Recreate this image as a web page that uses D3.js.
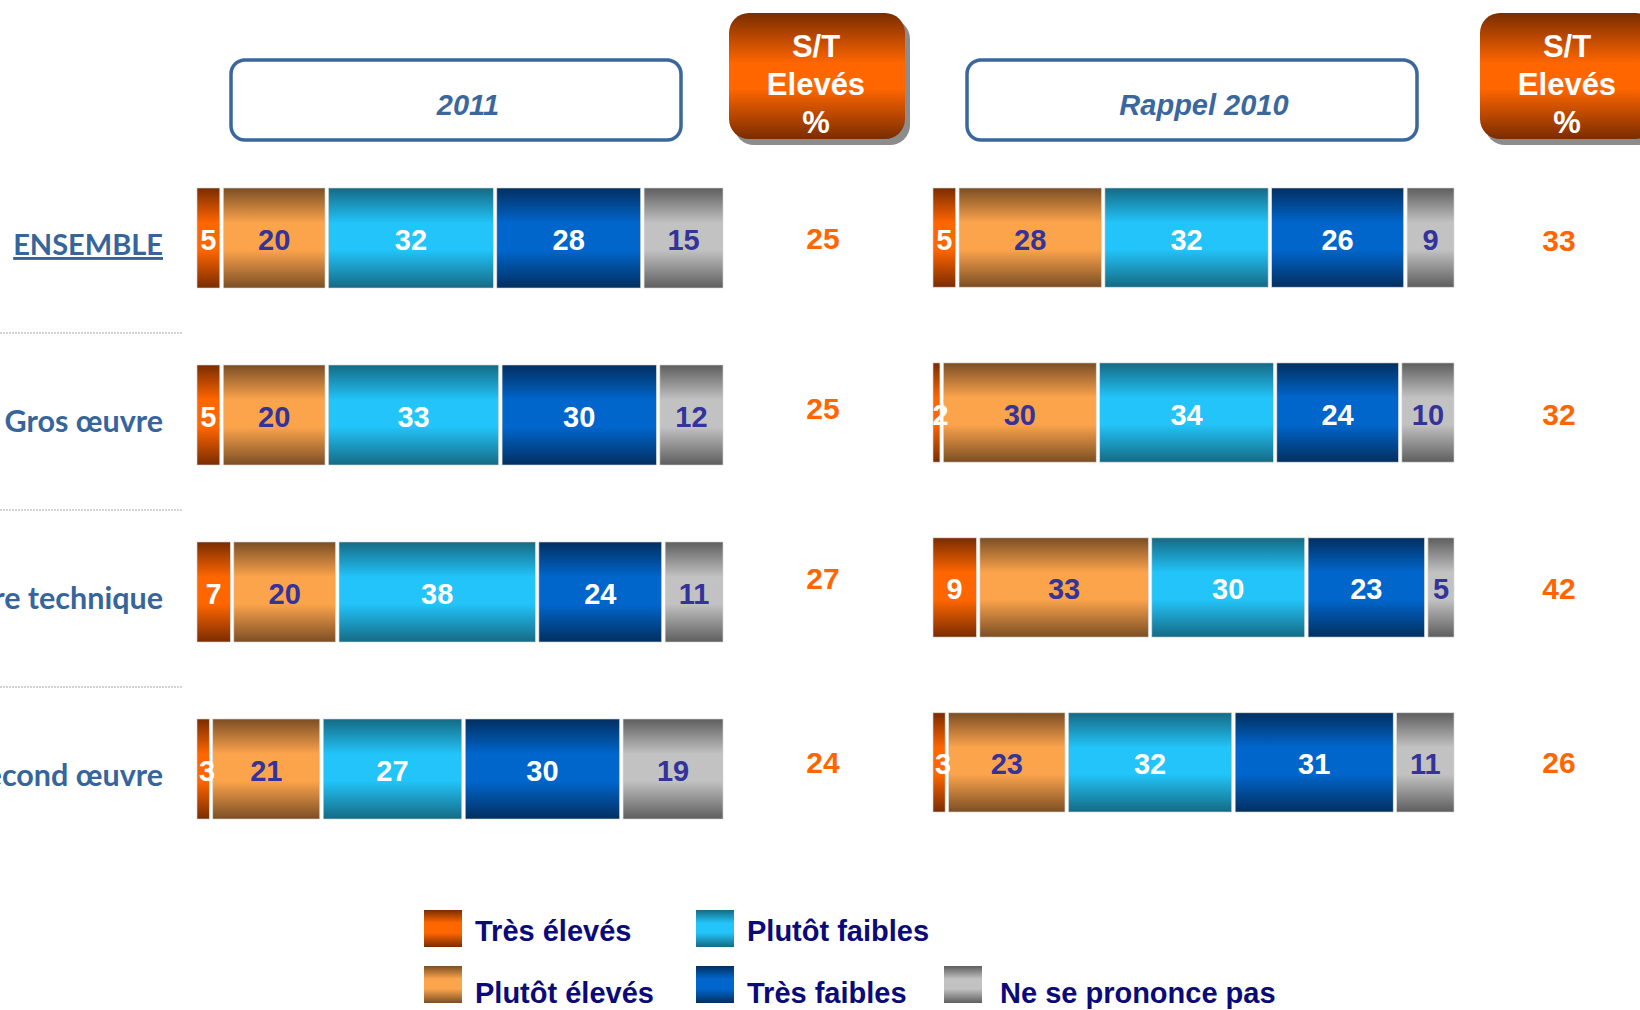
<!DOCTYPE html>
<html><head><meta charset="utf-8">
<script src="https://cdn.jsdelivr.net/npm/d3@7"></script>
<style>
html,body{margin:0;padding:0;background:#fff;overflow:hidden;}
svg{display:block;}
</style></head>
<body>
<svg id="chart" width="1640" height="1010"></svg>
<script>
// ---- data ----
const categories = ["ENSEMBLE", "Gros œuvre", "Second œuvre technique", "Second œuvre"];
const seriesNames = ["Très élevés", "Plutôt élevés", "Plutôt faibles", "Très faibles", "Ne se prononce pas"];
const values2011 = [
  [5, 20, 32, 28, 15],
  [5, 20, 33, 30, 12],
  [7, 20, 38, 24, 11],
  [3, 21, 27, 30, 19]
];
const values2010 = [
  [5, 28, 32, 26, 9],
  [2, 30, 34, 24, 10],
  [9, 33, 30, 23, 5],
  [3, 23, 32, 31, 11]
];
const stEleves2011 = [25, 25, 27, 24];
const stEleves2010 = [33, 32, 42, 26];
const periodLabels = ["2011", "Rappel 2010"];
const stHeaderLines = ["S/T", "Elevés", "%"];

// ---- styles ----
const gradColors = [
  {dark: "#7a2c00", light: "#ff6600"},
  {dark: "#7b4e24", light: "#fca44c"},
  {dark: "#156a84", light: "#22c4f9"},
  {dark: "#022f60", light: "#0066cc"},
  {dark: "#5e5e5e", light: "#c2c2c2"}
];
const textColors = ["#ffffff", "#33339a", "#ffffff", "#ffffff", "#33339a"];
const numFont = "'Liberation Sans', Arial, sans-serif";

const svg = d3.select("#chart");
const defs = svg.append("defs");
gradColors.forEach((c, i) => {
  const g = defs.append("linearGradient").attr("id", "g" + i)
    .attr("x1", 0).attr("y1", 0).attr("x2", 0).attr("y2", 1);
  g.append("stop").attr("offset", "0%").attr("stop-color", c.dark);
  g.append("stop").attr("offset", "35%").attr("stop-color", c.light);
  g.append("stop").attr("offset", "62%").attr("stop-color", c.light);
  g.append("stop").attr("offset", "100%").attr("stop-color", c.dark);
});
const stg = defs.append("linearGradient").attr("id", "stg")
  .attr("x1", 0).attr("y1", 0).attr("x2", 0).attr("y2", 1);
stg.append("stop").attr("offset", "0%").attr("stop-color", "#7a2c00");
stg.append("stop").attr("offset", "40%").attr("stop-color", "#ff6600");
stg.append("stop").attr("offset", "60%").attr("stop-color", "#ff6600");
stg.append("stop").attr("offset", "100%").attr("stop-color", "#7a2c00");

// ---- panels ----
const yRight = d3.scaleBand().domain(categories).range([188, 812]).paddingInner(0.433).paddingOuter(0);
const panels = [
  {values: values2011, st: stEleves2011, label: periodLabels[0],
   x: d3.scaleLinear().domain([0, 100]).range([197, 723]),
   y: d3.scaleBand().domain(categories).range([188, 819]).paddingInner(0.435).paddingOuter(0),
   stY: yRight, stOff: [11, 6, 2, 11],
   box: [231, 60, 450, 80], stBox: [729, 13, 176, 126], stX: 823},
  {values: values2010, st: stEleves2010, label: periodLabels[1],
   x: d3.scaleLinear().domain([0, 100]).range([933, 1454]),
   y: yRight, stY: yRight, stOff: [13, 12, 12, 11],
   box: [967, 60, 450, 80], stBox: [1480, 13, 176, 126], stX: 1559}
];

panels.forEach(p => {
  // header box
  svg.append("rect").attr("x", p.box[0]).attr("y", p.box[1]).attr("width", p.box[2]).attr("height", p.box[3])
    .attr("rx", 14).attr("fill", "#fff").attr("stroke", "#3b689c").attr("stroke-width", 3.5);
  svg.append("text").attr("x", p.box[0] + p.box[2] / 2 + 12).attr("y", p.box[1] + p.box[3] / 2 + 15)
    .attr("text-anchor", "middle").attr("font-family", numFont).attr("font-weight", "bold")
    .attr("font-style", "italic").attr("font-size", 29).attr("fill", "#3b689c").text(p.label);
  // S/T box
  const [bx, by, bw, bh] = p.stBox;
  svg.append("rect").attr("x", bx + 5).attr("y", by + 6).attr("width", bw).attr("height", bh)
    .attr("rx", 20).attr("fill", "#8c8c8c");
  svg.append("rect").attr("x", bx).attr("y", by).attr("width", bw).attr("height", bh)
    .attr("rx", 20).attr("fill", "url(#stg)");
  stHeaderLines.forEach((t, i) => {
    svg.append("text").attr("x", bx + bw / 2 - 1).attr("y", by + 44 + i * 38)
      .attr("text-anchor", "middle").attr("font-family", numFont).attr("font-weight", "bold")
      .attr("font-size", 31).attr("fill", "#fff").text(t);
  });

  const g = svg.append("g");
  categories.forEach((cat, ci) => {
    const vals = p.values[ci];
    let cum = 0;
    const segs = vals.map((v, si) => { const s = {v, si, x0: cum, x1: cum + v}; cum += v; return s; });
    const y0 = p.y(cat), bh2 = p.y.bandwidth();
    g.selectAll(null).data(segs).enter().append("rect")
      .attr("x", d => p.x(d.x0))
      .attr("y", y0)
      .attr("width", d => Math.max(0, p.x(d.x1) - p.x(d.x0) - (d.si < segs.length - 1 ? 3.5 : 0)))
      .attr("height", bh2)
      .attr("fill", d => `url(#g${d.si})`)
      .attr("stroke", "#d8d8d8").attr("stroke-width", 0.6);
    g.selectAll(null).data(segs).enter().append("text")
      .attr("x", d => (p.x(d.x0) + p.x(d.x1) - (d.si < segs.length - 1 ? 3.5 : 0)) / 2 + (d.v < 4 ? 4 : 0))
      .attr("y", y0 + bh2 / 2 + 12)
      .attr("text-anchor", "middle").attr("font-family", numFont).attr("font-weight", "bold")
      .attr("font-size", 29).attr("fill", d => textColors[d.si]).text(d => d.v);
    svg.append("text").attr("x", p.stX).attr("y", p.stY(cat) + p.stY.bandwidth() / 2 + p.stOff[ci])
      .attr("text-anchor", "middle").attr("font-family", numFont).attr("font-weight", "bold")
      .attr("font-size", 30).attr("fill", "#ff6600").text(p.st[ci]);
  });
});

// ---- category labels ----
const yL = panels[0].y;
categories.forEach((cat, i) => {
  const t = svg.append("text").attr("x", 163).attr("y", yL(cat) + yL.bandwidth() / 2 + 17)
    .attr("text-anchor", "end").attr("font-family", "Lato, 'Open Sans', sans-serif")
    .attr("font-weight", "bold").attr("font-size", i === 0 ? 29 : 30.5).attr("fill", "#36659c").text(cat);
  if (i === 0) t.attr("text-decoration", "underline");
  if (i > 0) {
    svg.append("line").attr("x1", 0).attr("x2", 183)
      .attr("y1", yL(cat) - 32).attr("y2", yL(cat) - 32)
      .attr("stroke", "#a8a8a8").attr("stroke-width", 1).attr("stroke-dasharray", "2,1");
  }
});

// ---- legend ----
const legendPos = [
  {col: 0, row: 0}, {col: 0, row: 1}, {col: 1, row: 0}, {col: 1, row: 1}, {col: 2, row: 1}
];
const legCols = [424, 696, 944];
const legTextDx = [51, 51, 56];
const legRows = [910, 966];
const legTextDy = [31, 37];
seriesNames.forEach((name, i) => {
  const lp = legendPos[i];
  const sx = legCols[lp.col], sy = legRows[lp.row];
  svg.append("rect").attr("x", sx).attr("y", sy).attr("width", 38).attr("height", 37)
    .attr("fill", `url(#g${i})`);
  svg.append("text").attr("x", sx + legTextDx[lp.col]).attr("y", sy + legTextDy[lp.row])
    .attr("font-family", numFont).attr("font-weight", "bold").attr("font-size", 29)
    .attr("fill", "#0a0a78").text(name);
});
</script>
</body></html>
